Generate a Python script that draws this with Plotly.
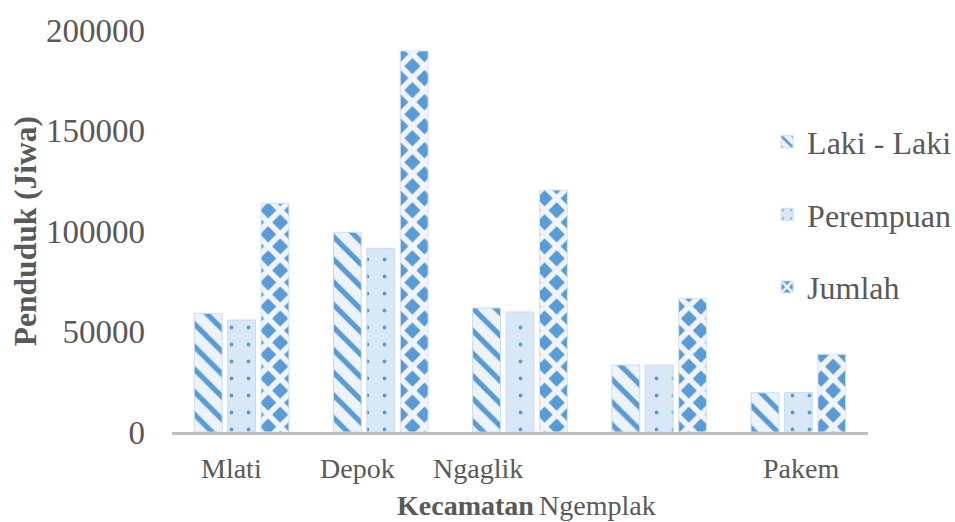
import plotly.graph_objects as go

kecamatan = ["Mlati", "Depok", "Ngaglik", "Ngemplak", "Pakem"]
laki_laki = [59000, 99400, 61700, 33300, 19500]
perempuan = [55700, 91400, 59700, 33300, 19700]
jumlah = [113800, 189600, 120400, 66500, 38700]
y_ticks = [0, 50000, 100000, 150000, 200000]

FONT = "Liberation Serif, Times New Roman, serif"
GRAY = "#595959"
BLUE = "#5B9BD5"

fig = go.Figure()
fig.add_trace(go.Bar(
    name="Laki - Laki", x=kecamatan, y=laki_laki, legendgroup="a",
    marker=dict(color="#ECF3FB", line=dict(color="#C9DCF0", width=1),
                pattern=dict(shape="\\", fgcolor=BLUE, bgcolor="#ECF3FB",
                             size=16, solidity=0.33, fillmode="replace", fgopacity=1)),
))
fig.add_trace(go.Bar(
    name="Perempuan", x=kecamatan, y=perempuan, legendgroup="b",
    marker=dict(color="#D9E8F7", line=dict(color="#C9DCF0", width=1),
                pattern=dict(shape=".", fgcolor=BLUE, bgcolor="#D9E8F7",
                             size=17, solidity=0.04, fillmode="replace", fgopacity=1)),
))
fig.add_trace(go.Bar(
    name="Jumlah", x=kecamatan, y=jumlah, legendgroup="c",
    marker=dict(color=BLUE, line=dict(color="#D6E4F4", width=1),
                pattern=dict(shape="x", fgcolor="#F1F5FB", bgcolor=BLUE,
                             size=17, solidity=0.55, fillmode="replace", fgopacity=1)),
))

# x-axis category labels (Excel-style placement)
shifts = [-10, -23, -42, -62, 3]
for name, dx in zip(kecamatan, shifts):
    low = name == "Ngemplak"
    fig.add_annotation(x=name, xref="x", y=-0.184 if low else -0.0896, yref="paper",
                       xshift=dx, text=name, showarrow=False, xanchor="center",
                       yanchor="middle", font=dict(family=FONT, size=28, color=GRAY))

fig.add_annotation(x=0.421, xref="paper", y=-0.184, yref="paper",
                   text="<b>Kecamatan</b>", showarrow=False, xanchor="center",
                   yanchor="middle", font=dict(family=FONT, size=28, color=GRAY))
fig.add_annotation(x=-0.211, xref="paper", y=0.5, yref="paper", textangle=-90,
                   text="<b>Penduduk (Jiwa)</b>", showarrow=False, xanchor="center",
                   yanchor="middle", font=dict(family=FONT, size=31.5, color=GRAY))

fig.update_layout(
    width=955, height=522,
    margin=dict(l=172, r=87, t=30, b=90, autoexpand=False),
    paper_bgcolor="white", plot_bgcolor="white",
    barmode="group", bargap=0.28, bargroupgap=0.165,
    font=dict(family=FONT, color=GRAY, size=30),
    legend=dict(x=0.855, y=0.79, xanchor="left", yanchor="top",
                font=dict(family=FONT, size=32, color=GRAY),
                tracegroupgap=28, bgcolor="rgba(0,0,0,0)"),
    showlegend=True,
)
fig.update_xaxes(showline=True, linecolor="#BFBFBF", linewidth=3,
                 showticklabels=False, ticks="", showgrid=False, zeroline=False,
                 range=[-0.5, 4.5])
fig.update_yaxes(range=[0, 200000], tickvals=y_ticks, ticktext=[str(v) for v in y_ticks],
                 showgrid=False, zeroline=False, showline=False, ticks="",
                 ticklabelstandoff=26, tickfont=dict(family=FONT, size=33, color=GRAY))

fig.write_html("out.html")
